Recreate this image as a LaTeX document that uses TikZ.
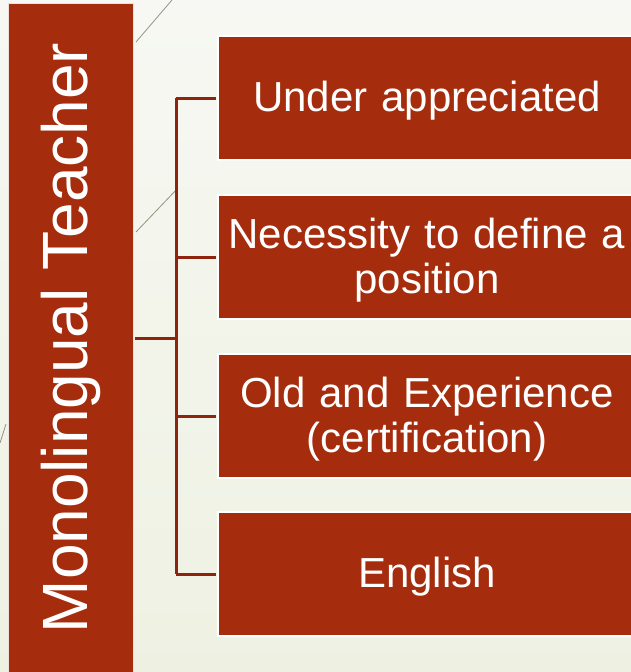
\documentclass[tikz,border=0pt]{standalone}
\usepackage{fontspec}
\setmainfont{Liberation Sans}
\usetikzlibrary{positioning}

\definecolor{rust}{RGB}{165,44,12}
\definecolor{rustline}{RGB}{142,36,14}
\definecolor{bgtop}{RGB}{247,248,243}
\definecolor{bgbot}{RGB}{238,241,226}
\definecolor{decogray}{RGB}{150,146,130}

\begin{document}
\begin{tikzpicture}
    [x=1pt,y=-1pt,
     topic/.style={fill=rust,draw=white,line width=1.5pt,text=white,
       minimum width=418pt,minimum height=124pt,text width=400pt,
       align=center,inner sep=0pt,outer sep=0pt,
       font=\fontsize{42}{45.5}\selectfont},
     oneline/.style={topic,text depth=3pt},
     twoline/.style={topic,text height=36.5pt},
     headbox/.style={fill=rust,draw=white!85!rust,line width=1pt,text=white,
       minimum width=670pt,minimum height=125pt,inner sep=0pt,outer sep=0pt,
       font=\fontsize{64}{64}\selectfont},
     link/.style={draw=rustline,line width=3pt},
     deco/.style={draw=decogray,line width=0.8pt}]
  % background
  \shade[top color=bgtop,bottom color=bgbot] (0,0) rectangle (631,672);
  \useasboundingbox (0,0) rectangle (631,672);
  \draw[deco] (136,42) -- (172,0);
  \draw[deco] (136,232) -- (178,188);
  \draw[deco] (0,443) -- (6,424);
  % left heading
  \node[headbox,rotate=90] (teacher) at (70.5,338) {Monolingual Teacher};
  % topics
  \node[oneline] (under) at (427,98) {Under appreciated};
  \node[twoline,below=35pt of under] (define) {Necessity to define a\\position};
  \node[twoline,below=35pt of define] (old) {Old and Experience\\(certification)};
  \node[oneline,below=34pt of old] (english) {English};
  % bracket
  \coordinate (hub) at (176,338);
  \draw[link] ([xshift=2pt]teacher.south) -- (hub);
  \draw[link] (hub |- under.west) -- (hub |- english.west);
  \foreach \t in {under,define,old,english}
    \draw[link] (hub |- \t.west) -- ([xshift=-2pt]\t.west);
\end{tikzpicture}
\end{document}
